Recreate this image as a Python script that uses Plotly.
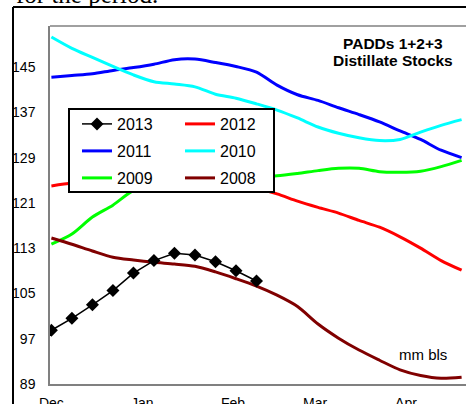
import plotly.graph_objects as go

# weekly dates (x categories)
dates = ["2012-12-01", "2012-12-08", "2012-12-15", "2012-12-22", "2012-12-29",
         "2013-01-05", "2013-01-12", "2013-01-19", "2013-01-26",
         "2013-02-02", "2013-02-09", "2013-02-16", "2013-02-23",
         "2013-03-02", "2013-03-09", "2013-03-16", "2013-03-23", "2013-03-30",
         "2013-04-06", "2013-04-13", "2013-04-20"]

s2013 = [98.5, 100.6, 103.0, 105.5, 108.6, 110.8, 112.1, 111.8, 110.6, 109.0, 107.2]
s2012 = [124.0, 124.5, 124.9, 125.2, 125.4, 125.5, 125.3, 125.0, 124.6, 124.1, 123.6,
         122.6, 121.3, 120.2, 119.2, 117.9, 116.7, 115.0, 113.0, 110.8, 109.1]
s2011 = [143.2, 143.5, 143.8, 144.4, 144.9, 145.5, 146.3, 146.4, 145.8, 145.1, 144.1,
         141.8, 140.1, 139.1, 137.8, 136.6, 135.3, 133.7, 132.2, 130.3, 129.0]
s2010 = [150.3, 148.3, 146.7, 145.1, 143.6, 142.4, 142.0, 141.5, 140.2, 139.5, 138.5,
         137.4, 136.0, 134.4, 133.3, 132.5, 132.0, 132.2, 133.5, 134.7, 135.7]
s2009 = [113.7, 115.5, 118.5, 120.6, 123.2, 124.3, 125.0, 125.3, 125.5, 125.6, 125.7,
         125.8, 126.2, 126.7, 127.1, 127.1, 126.5, 126.4, 126.6, 127.4, 128.5]
s2008 = [114.8, 113.7, 112.5, 111.4, 110.9, 110.5, 110.2, 109.8, 108.8, 107.6, 106.3,
         104.7, 102.7, 99.6, 97.1, 95.0, 93.2, 91.5, 90.5, 90.0, 90.2]

month_ticks = ["2012-12-01", "2013-01-01", "2013-02-01", "2013-03-01", "2013-04-01"]
month_labels = ["Dec", "Jan", "Feb", "Mar", "Apr"]
y_ticks = [89, 97, 105, 113, 121, 129, 137, 145]

PL, PT, PR, PB = 50, 26, 0, 20
W, H = 466, 404
pw, ph = W - PL - PR, H - PT - PB

def px(x):
    return (x - PL) / pw

def py(y):
    return (H - PB - y) / ph

# legend cell positions (pixels): column line-start x, row centre y
COLS = [87, 190]
ROWS = [124, 151, 178]

fig = go.Figure()

def add_line(name, vals, color, legend_id):
    fig.add_trace(go.Scatter(
        x=dates[:len(vals)], y=vals, name=name, mode="lines",
        line=dict(color=color, width=3, shape="spline", smoothing=0.8),
        legend=legend_id))

add_line("2012", s2012, "#FF0000", "legend2")
add_line("2011", s2011, "#0000FF", "legend3")
add_line("2010", s2010, "#00FFFF", "legend4")
add_line("2009", s2009, "#00FF00", "legend5")
add_line("2008", s2008, "#800000", "legend6")

fig.add_trace(go.Scatter(
    x=dates[:len(s2013)], y=s2013, name="2013", mode="lines+markers",
    line=dict(color="black", width=1.5),
    marker=dict(symbol="diamond", size=10, color="black"),
    legend="legend"))

def leg(col, row):
    return dict(
        x=px(COLS[col] - 10), y=py(ROWS[row]), xanchor="left", yanchor="middle",
        bgcolor="rgba(0,0,0,0)", borderwidth=0,
        font=dict(size=16, color="black"), itemwidth=30)

fig.update_layout(
    width=W, height=H,
    margin=dict(l=PL, r=PR, t=PT, b=PB, pad=0, autoexpand=False),
    paper_bgcolor="white", plot_bgcolor="white",
    font=dict(family="Liberation Sans, Arial, sans-serif", size=14, color="black"),
    showlegend=True,
    legend=leg(0, 0), legend2=leg(1, 0),
    legend3=leg(0, 1), legend4=leg(1, 1),
    legend5=leg(0, 2), legend6=leg(1, 2),
    xaxis=dict(
        type="date", automargin=False,
        range=["2012-11-30 12:30", "2013-04-21 12:00"],
        tickvals=month_ticks, ticktext=month_labels,
        showgrid=False, zeroline=False,
        ticks="outside", ticklen=5, tickcolor="rgba(0,0,0,0)",
        showline=True, linecolor="#808080", linewidth=1.5, mirror=False,
        tickfont=dict(size=14),
    ),
    yaxis=dict(
        range=[89, 152.25], tickvals=y_ticks, automargin=False,
        showgrid=False, zeroline=False,
        ticks="outside", ticklen=10, tickcolor="rgba(0,0,0,0)",
        showline=True, linecolor="#808080", linewidth=1.5,
        tickfont=dict(size=14),
    ),
    shapes=[
        # top border of the plot area
        dict(type="line", xref="paper", yref="paper", x0=0, x1=1.01, y0=1, y1=1,
             line=dict(color="#808080", width=1.5)),
        # legend box (above the traces, below the legend texts)
        dict(type="rect", xref="paper", yref="paper", layer="above",
             x0=px(69), x1=px(274), y0=py(192), y1=py(109),
             fillcolor="white", line=dict(color="black", width=2)),
        # document frame
        dict(type="line", xref="paper", yref="paper", x0=px(13), x1=px(13),
             y0=py(7), y1=py(420), line=dict(color="black", width=2)),
        dict(type="line", xref="paper", yref="paper", x0=px(13), x1=px(480),
             y0=py(7), y1=py(7), line=dict(color="black", width=2)),
    ],
    annotations=[
        dict(text="for the period.", xref="paper", yref="paper", x=px(14), y=py(10),
             xanchor="left", yanchor="bottom", showarrow=False,
             font=dict(family="Liberation Serif, Times New Roman, serif", size=25, color="black")),
        dict(text="<b>PADDs 1+2+3</b>", xref="paper", yref="paper", x=px(393), y=py(43.5),
             xanchor="center", yanchor="middle", showarrow=False, font=dict(size=15.5)),
        dict(text="<b>Distillate Stocks</b>", xref="paper", yref="paper", x=px(393), y=py(61),
             xanchor="center", yanchor="middle", showarrow=False, font=dict(size=15.5)),
        dict(text="mm bls", xref="paper", yref="paper", x=px(422.5), y=py(354),
             xanchor="center", yanchor="middle", showarrow=False, font=dict(size=15)),
    ],
)

fig.write_html("out.html", config={"displayModeBar": False},
               post_script="document.body.style.margin='0';document.body.style.overflow='hidden';")
